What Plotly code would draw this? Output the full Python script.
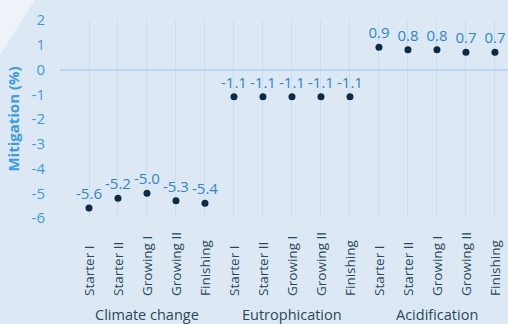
import plotly.graph_objects as go

groups = ["Climate change", "Eutrophication", "Acidification"]
phases = ["Starter I", "Starter II", "Growing I", "Growing II", "Finishing"]
climate_change = [-5.6, -5.2, -5.0, -5.3, -5.4]
eutrophication = [-1.1, -1.1, -1.1, -1.1, -1.1]
acidification = [0.9, 0.8, 0.8, 0.7, 0.7]
y_ticks = [2, 1, 0, -1, -2, -3, -4, -5, -6]

series = [climate_change, eutrophication, acidification]
xs, ys, labels = [], [], []
for gi, vals in enumerate(series):
    for pi, v in enumerate(vals):
        xs.append(gi * len(phases) + pi)
        ys.append(v)
        labels.append(f"{v:.1f}")

W, H = 508, 324
ML, MR, MT, MB = 60, 0, 20, 106
PW, PH = W - ML - MR, H - MT - MB


def px(x):
    return (x - ML) / PW


def py(y):
    return (H - MB - y) / PH


BG = "#dce9f5"
FONT = "Open Sans"
fig = go.Figure()
fig.add_trace(go.Scatter(
    x=xs, y=ys, mode="markers+text", text=labels, textposition="top center",
    textfont=dict(family=FONT, size=15, color="#2f86c9"),
    marker=dict(size=7, color="#0e2a45"), cliponaxis=False, showlegend=False,
    hoverinfo="skip",
))

annotations = []
for gi, g in enumerate(groups):
    for pi, p in enumerate(phases):
        annotations.append(dict(
            x=gi * len(phases) + pi, xref="x", y=py(298), yref="paper",
            text=p, textangle=-90, showarrow=False, xanchor="center", yanchor="bottom",
            font=dict(family=FONT, size=13.5, color="#2b4759"),
        ))
for gi, g in enumerate(groups):
    annotations.append(dict(
        x=gi * len(phases) + 2, xref="x", y=py(314), yref="paper",
        text=g, showarrow=False, xanchor="center", yanchor="middle",
        font=dict(family=FONT, size=14.5, color="#2b4759"),
    ))

tri = f"M {px(0)} {py(0)} L {px(0)} {py(55)} L {px(35)} {py(0)} Z"

fig.update_layout(
    width=W, height=H,
    margin=dict(l=ML, r=MR, t=MT, b=MB, autoexpand=False),
    paper_bgcolor=BG, plot_bgcolor=BG,
    annotations=annotations,
    shapes=[
        dict(type="path", xref="paper", yref="paper", layer="below",
             path=tri, fillcolor="#edf3f9", line=dict(width=0)),
    ],
    xaxis=dict(range=[-1, 14.45], tickvals=list(range(-1, 15)), showticklabels=False,
               showgrid=True, gridcolor="#c9def2", gridwidth=1, zeroline=False,
               showline=False, fixedrange=True, automargin=False),
    yaxis=dict(range=[-6, 2], tickvals=y_ticks, ticktext=[str(t) for t in y_ticks],
               showgrid=False, zeroline=True, zerolinecolor="#b9d6f0", zerolinewidth=2,
               ticklabelstandoff=14, automargin=False, fixedrange=True,
               tickfont=dict(family=FONT, size=15, color="#3d9be0"),
               title=dict(text="<b>Mitigation (%)</b>", standoff=8,
                          font=dict(family=FONT, size=15, color="#3d9be0"))),
)

fig.write_html("out.html", config={"displayModeBar": False},
               post_script="document.body.style.margin='0';")
